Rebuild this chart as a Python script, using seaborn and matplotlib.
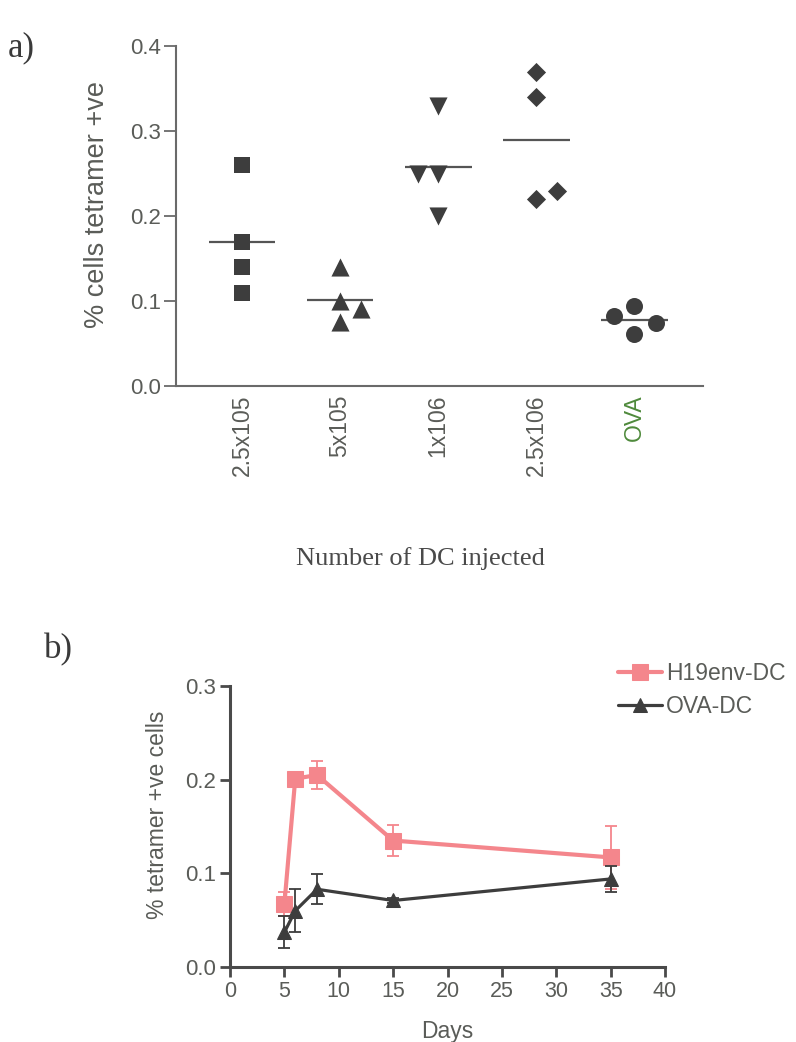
import numpy as np
import pandas as pd
import matplotlib
matplotlib.use("Agg")
import matplotlib.pyplot as plt
import seaborn as sns

# ---------------- data ----------------
categories = ["2.5x105", "5x105", "1x106", "2.5x106", "OVA"]
vals_25e5 = [0.26, 0.17, 0.14, 0.11]
vals_5e5 = [0.14, 0.10, 0.091, 0.075]
vals_1e6 = [0.33, 0.25, 0.25, 0.20]
vals_25e6 = [0.37, 0.34, 0.22, 0.23]
vals_ova = [0.082, 0.094, 0.061, 0.074]

days = [5, 6, 8, 15, 35]
h19_mean = [0.067, 0.201, 0.205, 0.135, 0.117]
h19_sem = [0.013, 0.004, 0.015, 0.017, 0.034]
ova_mean = [0.037, 0.060, 0.083, 0.071, 0.094]
ova_sem = [0.017, 0.023, 0.016, 0.003, 0.014]

# ---------------- style ----------------
sns.set_theme(style="ticks")
plt.rcParams["font.family"] = ["Liberation Sans", "DejaVu Sans"]

W, H = 796, 1042
fig = plt.figure(figsize=(W / 100, H / 100), dpi=100)

def fx(px):
    return px / W

def fy(py):
    return 1 - py / H

txt_grey = "#5a5c58"
dark = "#3d3d3d"
pink = "#f4868c"

# ---------------- panel a ----------------
axa = fig.add_axes([fx(176), fy(386), fx(703) - fx(176), fy(46) - fy(386)])
groups = [vals_25e5, vals_5e5, vals_1e6, vals_25e6, vals_ova]
markers = ["s", "^", "v", "D", "o"]
msizes = [140, 170, 170, 95, 150]
nudges = [[0, 0, 0, 0], [0, 0, 0.21, 0], [0, -0.21, 0, 0], [0, 0, 0, 0.21], [-0.21, 0, 0, 0.22]]
for i, (vals, m, s, nd) in enumerate(zip(groups, markers, msizes, nudges)):
    df = pd.DataFrame({"x": [i + d for d in nd], "y": vals})
    sns.scatterplot(data=df, x="x", y="y", marker=m, s=s, color=dark,
                    edgecolor=dark, linewidth=0, ax=axa, clip_on=False, zorder=3)
    mu = float(np.mean(vals))
    axa.hlines(mu, i - 0.34, i + 0.34, color="#555555", lw=1.6, zorder=2)

axa.set_xlim(-0.673, 4.70)
axa.set_ylim(0, 0.4)
axa.set_xticks(range(len(categories)))
axa.set_xticklabels(categories, rotation=90, fontsize=16.5, color=txt_grey, va="top")
axa.get_xticklabels()[-1].set_color("#4f8a3c")
axa.set_yticks([0.0, 0.1, 0.2, 0.3, 0.4])
axa.set_yticklabels(["0.0", "0.1", "0.2", "0.3", "0.4"], fontsize=16, color=txt_grey)
axa.tick_params(axis="x", length=0, pad=6)
axa.tick_params(axis="y", length=9, width=1.3, color="#6a6a6a", pad=2)
for sp in ["top", "right"]:
    axa.spines[sp].set_visible(False)
for sp in ["left", "bottom"]:
    axa.spines[sp].set_color("#6a6a6a")
    axa.spines[sp].set_linewidth(1.5)
axa.set_xlabel("")
axa.set_ylabel("")

fig.text(fx(97), fy(205), "% cells tetramer +ve", rotation=90, ha="center", va="center",
         fontsize=19.5, color=txt_grey)
fig.text(fx(420), fy(559), "Number of DC injected", ha="center", va="center",
         fontsize=19, color="#4a4a4a", family=["Liberation Serif", "DejaVu Serif"])
fig.text(fx(8), fy(48), "a)", ha="left", va="center", fontsize=25, color="#3a3a3a",
         family=["Liberation Serif", "DejaVu Serif"])

# ---------------- panel b ----------------
axb = fig.add_axes([fx(230), fy(967), fx(665) - fx(230), fy(686) - fy(967)])
ts = pd.DataFrame({
    "Days": days * 2,
    "val": h19_mean + ova_mean,
    "sem": h19_sem + ova_sem,
    "group": ["H19env-DC"] * len(days) + ["OVA-DC"] * len(days),
})
pal = {"H19env-DC": pink, "OVA-DC": dark}
for g, ms, mk, lw, z in [("H19env-DC", 12, "s", 3.0, 4), ("OVA-DC", 10.5, "^", 2.3, 5)]:
    sub = ts[ts["group"] == g]
    axb.errorbar(sub["Days"], sub["val"], yerr=sub["sem"], fmt="none",
                 ecolor=pal[g], elinewidth=1.3, capsize=4.5, capthick=1.3,
                 zorder=z - 1, clip_on=False)
    sns.lineplot(data=sub, x="Days", y="val", color=pal[g], marker=mk,
                 markersize=ms, markeredgecolor=pal[g], linewidth=lw,
                 label=g, ax=axb, zorder=z, clip_on=False)

axb.set_xlim(0, 40)
axb.set_ylim(0, 0.3)
axb.set_xticks(range(0, 41, 5))
axb.set_xticklabels([str(v) for v in range(0, 41, 5)], fontsize=15.5, color=txt_grey)
axb.set_yticks([0.0, 0.1, 0.2, 0.3])
axb.set_yticklabels(["0.0", "0.1", "0.2", "0.3"], fontsize=16, color=txt_grey)
axb.tick_params(axis="both", length=7, width=2, color="#4a4a4a", pad=3)
for sp in ["top", "right"]:
    axb.spines[sp].set_visible(False)
for sp in ["left", "bottom"]:
    axb.spines[sp].set_color("#4a4a4a")
    axb.spines[sp].set_linewidth(2.2)
axb.set_xlabel("Days", fontsize=16.5, color=txt_grey, labelpad=13)
axb.set_ylabel("")
fig.text(fx(158), fy(815), "% tetramer +ve cells", rotation=90, ha="center", va="center",
         fontsize=16.5, color=txt_grey)
fig.text(fx(44), fy(650), "b)", ha="left", va="center", fontsize=25, color="#3a3a3a",
         family=["Liberation Serif", "DejaVu Serif"])

leg = axb.legend(loc="upper left", bbox_to_anchor=(fx(618), fy(662)),
                 bbox_transform=fig.transFigure, frameon=False, fontsize=16.5,
                 handlelength=1.9, handletextpad=0.2, labelspacing=0.45,
                 borderpad=0, borderaxespad=0)
for t in leg.get_texts():
    t.set_color(txt_grey)

fig.savefig("out.png", dpi=100, facecolor="white")
